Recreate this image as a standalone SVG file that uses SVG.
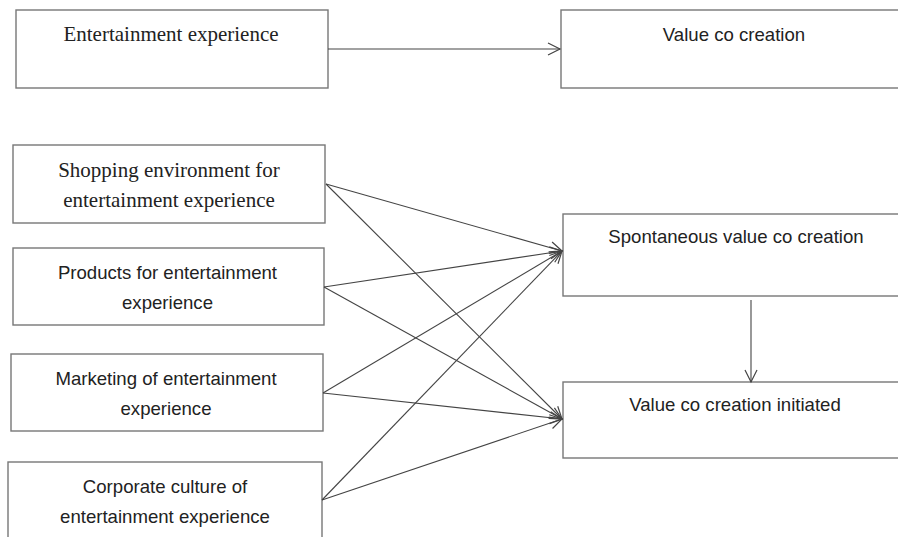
<svg xmlns="http://www.w3.org/2000/svg" width="898" height="537" viewBox="0 0 898 537">
<defs>
<marker id="arr" markerUnits="userSpaceOnUse" markerWidth="16" markerHeight="16" viewBox="-13 -8 16 16" refX="0" refY="0" orient="auto">
<path d="M-12,-6 L0,0 L-12,6" fill="none" stroke="#444" stroke-width="1.2"/>
</marker>
</defs>
<style>
.box{fill:#fff;stroke:#777;stroke-width:1.4}
.serif{font-family:"Liberation Serif","Times New Roman",serif;font-size:21px;fill:#222;text-anchor:middle}
.sans{font-family:"Liberation Sans",Arial,sans-serif;font-size:18.6px;fill:#222;text-anchor:middle}
.conn{stroke:#444;stroke-width:1.1;fill:none;marker-end:url(#arr)}
</style>
<rect width="898" height="537" fill="#fff"/>
<g id="entertainment-experience">
<rect class="box" x="16" y="10" width="312" height="78"/>
<text class="serif" x="171" y="41">Entertainment experience</text>
</g>
<g id="value-co-creation">
<rect class="box" x="561" y="10" width="345" height="78"/>
<text class="sans" x="734" y="41">Value co creation</text>
</g>
<g id="shopping-environment">
<rect class="box" x="13" y="145" width="312" height="78"/>
<text class="serif" x="169" y="177">Shopping environment for</text>
<text class="serif" x="169" y="207">entertainment experience</text>
</g>
<g id="products">
<rect class="box" x="13" y="248" width="311" height="77"/>
<text class="sans" x="167.5" y="279">Products for entertainment</text>
<text class="sans" x="167.5" y="309">experience</text>
</g>
<g id="marketing">
<rect class="box" x="11" y="354" width="312" height="77"/>
<text class="sans" x="166" y="385">Marketing of entertainment</text>
<text class="sans" x="166" y="415">experience</text>
</g>
<g id="corporate-culture">
<rect class="box" x="8" y="462" width="314" height="90"/>
<text class="sans" x="165" y="493">Corporate culture of</text>
<text class="sans" x="165" y="523">entertainment experience</text>
</g>
<g id="spontaneous-value-co-creation">
<rect class="box" x="563" y="214" width="345" height="82"/>
<text class="sans" x="736" y="243">Spontaneous value co creation</text>
</g>
<g id="value-co-creation-initiated">
<rect class="box" x="563" y="382" width="345" height="76"/>
<text class="sans" x="735" y="411">Value co creation initiated</text>
</g>
<g id="connectors">
<line class="conn" x1="328" y1="49" x2="560" y2="49"/>
<line class="conn" x1="751" y1="300" x2="751" y2="382"/>
<line class="conn" x1="326" y1="184" x2="562" y2="251"/>
<line class="conn" x1="326" y1="184" x2="562" y2="419"/>
<line class="conn" x1="324" y1="287" x2="562" y2="251"/>
<line class="conn" x1="324" y1="287" x2="562" y2="419"/>
<line class="conn" x1="323" y1="393" x2="562" y2="251"/>
<line class="conn" x1="323" y1="393" x2="562" y2="419"/>
<line class="conn" x1="322" y1="500" x2="562" y2="251"/>
<line class="conn" x1="322" y1="500" x2="562" y2="419"/>
</g>
</svg>
